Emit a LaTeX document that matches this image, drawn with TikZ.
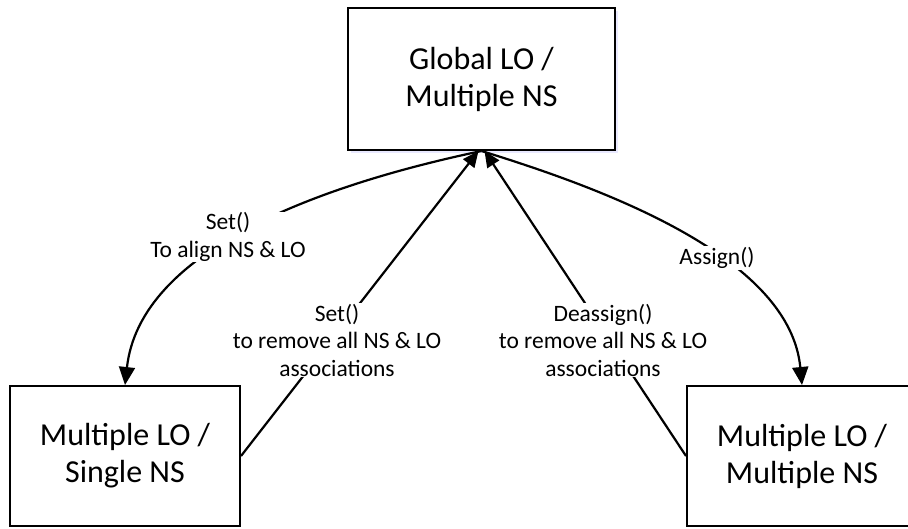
\documentclass[tikz,border=0pt]{standalone}
\usepackage{fontspec}
\setmainfont{Carlito}
\usetikzlibrary{arrows.meta,shadows}
\begin{document}
\begin{tikzpicture}[x=1pt,y=-1pt,
  box/.style={draw=black,line width=2pt,fill=white,align=center,inner sep=0pt,
    font=\fontsize{32}{37}\selectfont},
  conn/.style={line width=2.2pt,-{Triangle[length=18pt,width=16pt]}},
  sconn/.style={line width=2.2pt,-{Triangle[length=16pt,width=14pt]}},
  lbl/.style={fill=white,align=center,inner sep=1pt,font=\fontsize{23.5}{27.5}\selectfont}]
\useasboundingbox (0,0) rectangle (908,529);
\clip (0,0) rectangle (908,529);
\node[box,minimum width=267pt,minimum height=142pt,
  drop shadow={shadow xshift=3pt,shadow yshift=-3pt,fill=blue!12,opacity=0.7}]
  (top) at (481.5,79) {Global LO /\\Multiple NS};
\node[box,minimum width=230pt,minimum height=140pt] (bl) at (125,456) {Multiple LO /\\Single NS};
\node[box,minimum width=230pt,minimum height=140pt] (br) at (802,456) {Multiple LO /\\Multiple NS};
\coordinate (t) at (top.south);
\draw[conn] (t) .. controls (320,185) and (140,250) .. (bl.north);
\draw[conn] (t) .. controls (615,192) and (790,260) .. (br.north);
\draw[sconn] (bl.east) -- ([xshift=-3pt]t);
\draw[sconn] (br.west) -- ([xshift=3pt]t);
\node[lbl] (l1) at (228,237) {Set()\\To align NS \& LO};
\node[lbl] (l2) at (337,340) {Set()\\to remove all NS \& LO\\associations};
\node[lbl] (l3) at (603,340) {Deassign()\\to remove all NS \& LO\\associations};
\node[lbl] (l4) at (717,258) {Assign()};
\end{tikzpicture}
\end{document}
